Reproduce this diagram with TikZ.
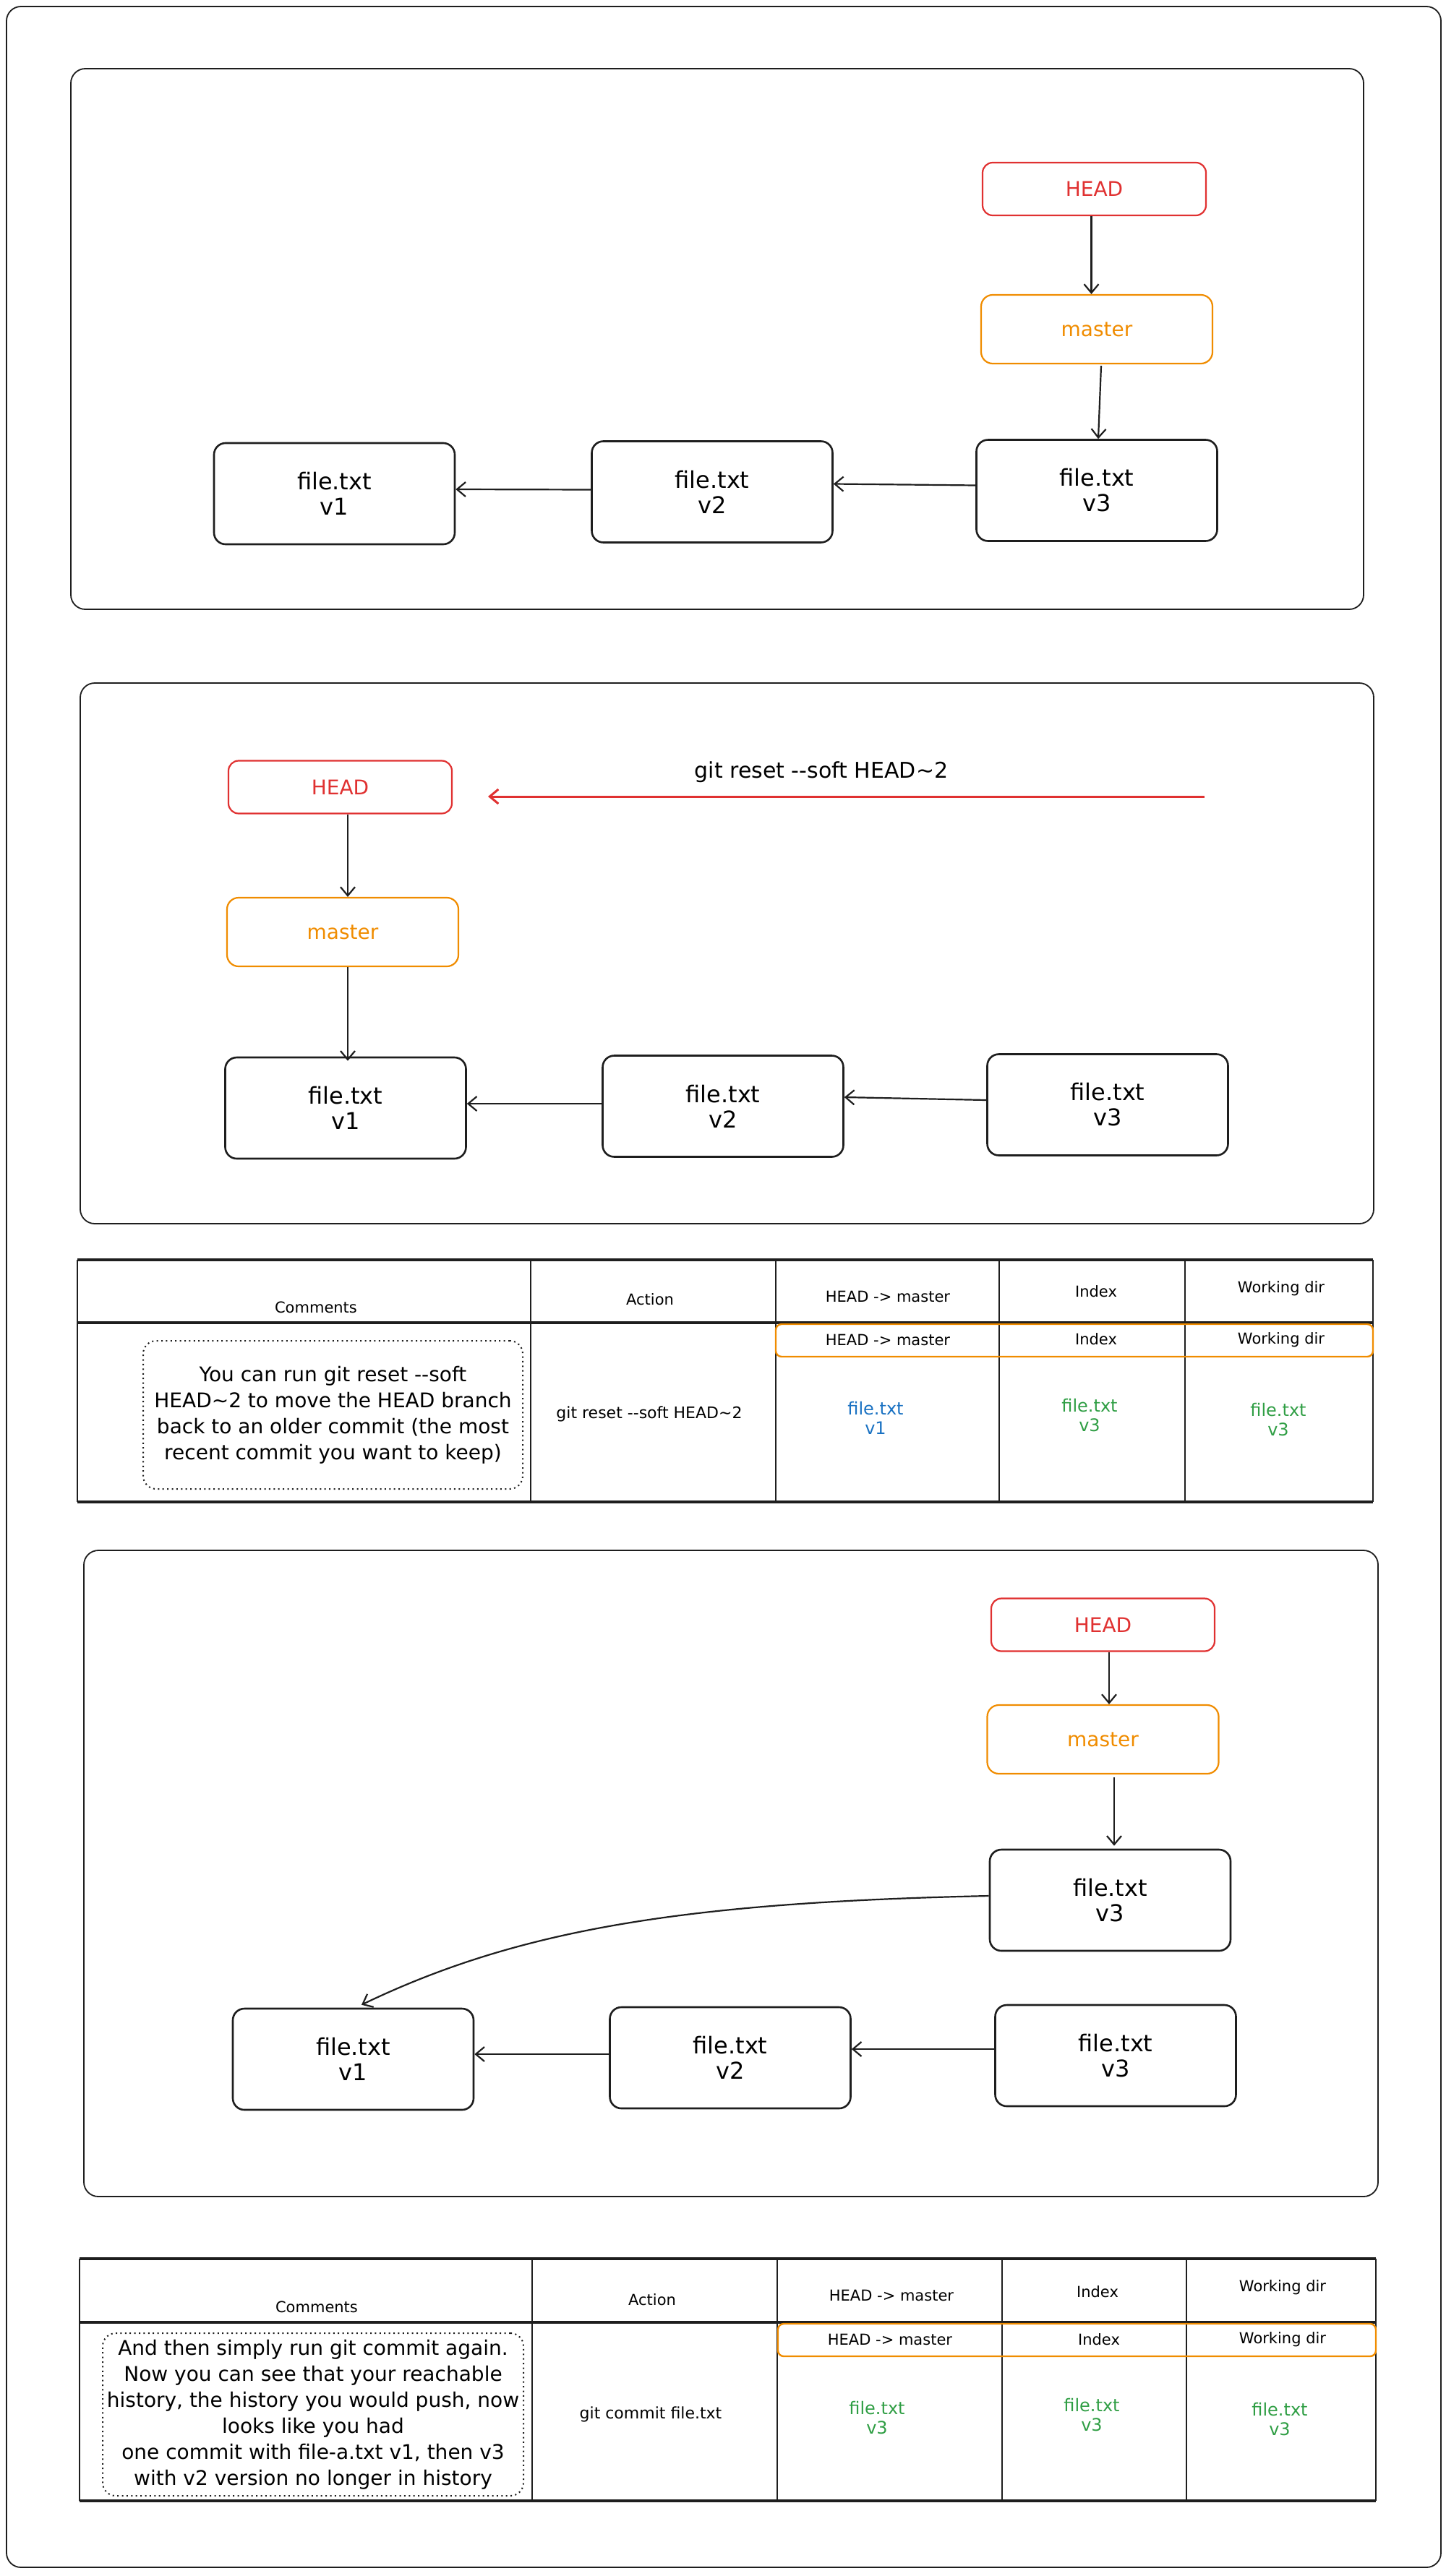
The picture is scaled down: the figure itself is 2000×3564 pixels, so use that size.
\documentclass[tikz,border=0pt]{standalone}
\usepackage{fontspec}
\setmainfont{DejaVu Sans}[Ligatures=TeXOff]
\usetikzlibrary{arrows.meta}
\definecolor{exred}{HTML}{E03131}
\definecolor{exorange}{HTML}{F08C00}
\definecolor{exblue}{HTML}{1971C2}
\definecolor{exgreen}{HTML}{2F9E44}
\definecolor{exblack}{HTML}{1E1E1E}
\begin{document}
\begin{tikzpicture}[x=0.5pt,y=-0.5pt,
  panel/.style={draw=exblack, line width=0.9pt, rounded corners=10pt},
  commit/.style={draw=exblack, line width=1.3pt, rounded corners=8pt, minimum width=166.5pt, minimum height=70pt, align=center, inner sep=0pt, font=\fontsize{16}{17.5}\selectfont},
  headbox/.style={draw=exred, text=exred, line width=1.1pt, rounded corners=7pt, minimum width=154.5pt, minimum height=36.5pt, inner sep=0pt, font=\fontsize{14}{16}\selectfont},
  masterbox/.style={draw=exorange, text=exorange, line width=1.1pt, rounded corners=8pt, minimum width=160pt, minimum height=47.5pt, inner sep=0pt, font=\fontsize{14}{16}\selectfont},
  conn/.style={draw=exblack, line width=1.1pt, -{Straight Barb[length=6pt,width=10pt]}},
  redconn/.style={draw=exred, line width=1.5pt, -{Straight Barb[length=6pt,width=10pt]}},
  thick line/.style={draw=exblack, line width=2pt},
  thin line/.style={draw=exblack, line width=0.9pt},
  hdr/.style={font=\fontsize{10.5}{12}\selectfont, inner sep=0pt},
  act/.style={font=\fontsize{11}{13}\selectfont, inner sep=0pt},
  cell/.style={font=\fontsize{12}{13.5}\selectfont, align=center, inner sep=0pt},
  rowbox/.style={draw=exorange, line width=1.2pt, rounded corners=4pt},
  note/.style={draw=exblack, line width=1pt, dash pattern=on 1pt off 2.2pt, rounded corners=9pt, align=center, inner sep=0pt, font=\fontsize{14}{18}\selectfont}
]
\useasboundingbox (0,0) rectangle (2000,3564);
\draw[panel] (9,9) rectangle (1993,3552);

% ---------- panel 1 ----------
\draw[panel] (98,95) rectangle (1886,843);
\node[headbox] (h1) at (1513.5,261.5) {HEAD};
\node[masterbox] (m1) at (1517,455.5) {master};
\node[commit] (c11) at (462.5,683) {file.txt\\v1};
\node[commit] (c12) at (985,680.5) {file.txt\\v2};
\node[commit] (c13) at (1517,678.5) {file.txt\\v3};
\draw[conn] ([xshift=-2pt]h1.south) -- ([xshift=-2pt]h1.south |- m1.north);
\draw[conn] ([xshift=3pt,yshift=-1pt]m1.south) -- ([xshift=1pt]c13.north);
\draw[conn] ([yshift=3.5pt]c13.west) -- ([yshift=5.5pt]c12.east);
\draw[conn] ([yshift=1.5pt]c12.west) -- ([yshift=3pt]c11.east);

% ---------- panel 2 ----------
\draw[panel] (111,945) rectangle (1900,1693);
\node[headbox] (h2) at (470.5,1089) {HEAD};
\node[masterbox] (m2) at (474,1289.5) {master};
\node[commit] (c21) at (478,1533) {file.txt\\v1};
\node[commit] (c22) at (1000,1530.5) {file.txt\\v2};
\node[commit] (c23) at (1532,1528.5) {file.txt\\v3};
\draw[conn] ([xshift=5.25pt]h2.south) -- ([xshift=5.25pt]h2.south |- m2.north);
\draw[conn] ([xshift=3.5pt]m2.south) -- ([xshift=1.5pt,yshift=-3pt]c21.north);
\draw[conn] ([yshift=1.75pt]c22.west) -- ([yshift=3pt]c21.east);
\draw[conn] ([yshift=3.25pt]c23.west) -- ([yshift=6.25pt]c22.east);
\coordinate (r2s) at (1666,1102);
\coordinate (r2e) at (675,1102);
\draw[redconn] (r2s) -- (r2e);
\node[font=\fontsize{15}{17}\selectfont, inner sep=0pt] (r2l) at (1136,1068) {git reset -{}-soft HEAD\textasciitilde2};

% ---------- table 1 ----------
\draw[thick line] (107,1743) -- (1899,1743);
\draw[thick line] (107,1830) -- (1899,1830);
\draw[thick line] (107,2078) -- (1899,2078);
\foreach \xx in {107,734,1073,1382,1639,1899} {\draw[thin line] (\xx,1743) -- (\xx,2078);}
\draw[rowbox] (1073,1832) rectangle (1899,1877);
\node[hdr] (t1c) at (437,1809) {Comments};
\node[hdr] (t1a) at (899,1798) {Action};
\node[hdr] (t1h) at (1228,1794) {HEAD -> master};
\node[hdr] (t1i) at (1516,1787) {Index};
\node[hdr] (t1w) at (1772,1783) {Working dir};
\node[hdr] (t1rh) at (1228,1854) {HEAD -> master};
\node[hdr] (t1ri) at (1516,1853) {Index};
\node[hdr] (t1rw) at (1772,1854) {Working dir};
\node[note, minimum width=262.5pt, minimum height=102.5pt] (t1n) at (460.5,1957.5)
  {You can run git reset -{}-soft\\HEAD\textasciitilde2 to move the HEAD branch\\back to an older commit (the most\\recent commit you want to keep)};
\node[act] (t1x) at (898,1956) {git reset -{}-soft HEAD\textasciitilde2};
\node[cell, text=exblue] (t1vh) at (1211,1962) {file.txt\\v1};
\node[cell, text=exgreen] (t1vi) at (1507,1958) {file.txt\\v3};
\node[cell, text=exgreen] (t1vw) at (1768,1964) {file.txt\\v3};

% ---------- panel 3 ----------
\draw[panel] (116,2145) rectangle (1906,3039);
\node[headbox] (h3) at (1525.5,2248) {HEAD};
\node[masterbox] (m3) at (1525.5,2406.5) {master};
\node[commit] (u3) at (1535.5,2629) {file.txt\\v3};
\node[commit] (c31) at (488.5,2849) {file.txt\\v1};
\node[commit] (c32) at (1010,2847) {file.txt\\v2};
\node[commit] (c33) at (1543,2844) {file.txt\\v3};
\draw[conn] ([xshift=4.25pt]h3.south) -- ([xshift=4.25pt]h3.south |- m3.north);
\draw[conn] ([xshift=7.75pt,yshift=-2pt]m3.south) -- ([xshift=2.75pt,yshift=2pt]u3.north);
\draw[conn] ([yshift=3pt]u3.west) .. controls (950,2632) and (720,2668) .. ([xshift=5.75pt,yshift=2pt]c31.north);
\draw[conn] ([yshift=2.5pt]c32.west) -- ([yshift=3.5pt]c31.east);
\draw[conn] ([yshift=4.5pt]c33.west) -- ([yshift=6pt]c32.east);

% ---------- table 2 ----------
\draw[thick line] (110,3125) -- (1903,3125);
\draw[thick line] (110,3213) -- (1903,3213);
\draw[thick line] (110,3460) -- (1903,3460);
\foreach \xx in {110,736,1075,1386,1641,1903} {\draw[thin line] (\xx,3125) -- (\xx,3460);}
\draw[rowbox] (1076,3215) rectangle (1903,3260);
\node[hdr] (t2c) at (438,3192) {Comments};
\node[hdr] (t2a) at (902,3182) {Action};
\node[hdr] (t2h) at (1233,3176) {HEAD -> master};
\node[hdr] (t2i) at (1518,3171) {Index};
\node[hdr] (t2w) at (1774,3165) {Working dir};
\node[hdr] (t2rh) at (1231,3237) {HEAD -> master};
\node[hdr] (t2ri) at (1520,3237) {Index};
\node[hdr] (t2rw) at (1774,3237) {Working dir};
\node[note, minimum width=291pt, minimum height=112.5pt] (t2n) at (433,3340.5)
  {And then simply run git commit again.\\Now you can see that your reachable\\history, the history you would push, now\\looks like you had\\one commit with file-a.txt v1, then v3\\with v2 version no longer in history};
\node[act] (t2x) at (900,3340) {git commit file.txt};
\node[cell, text=exgreen] (t2vh) at (1213,3345) {file.txt\\v3};
\node[cell, text=exgreen] (t2vi) at (1510,3341) {file.txt\\v3};
\node[cell, text=exgreen] (t2vw) at (1770,3347) {file.txt\\v3};
\end{tikzpicture}
\end{document}
